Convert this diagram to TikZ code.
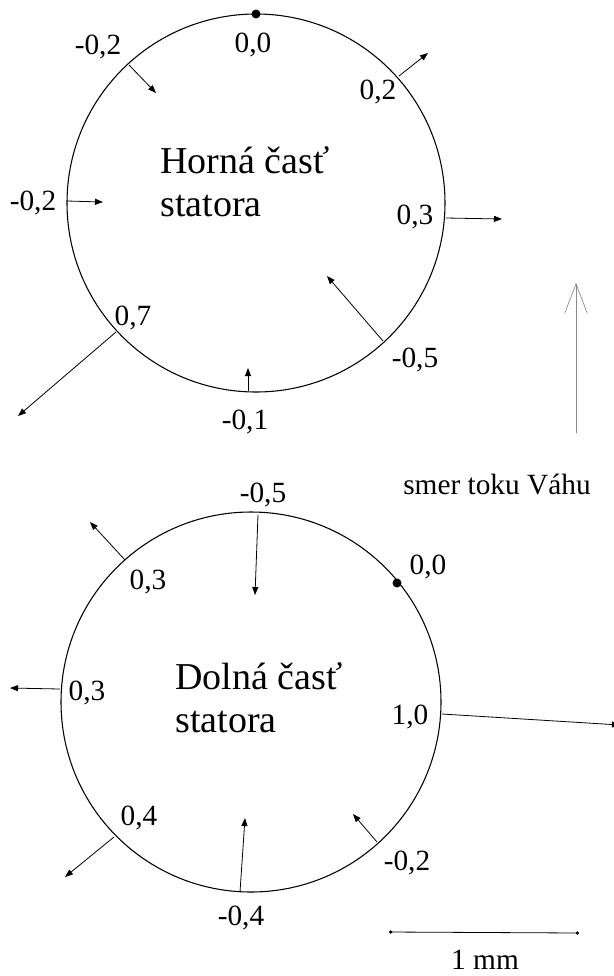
\documentclass[tikz,border=0pt]{standalone}
\usepackage{fontspec}
\setmainfont{Liberation Serif}
\usetikzlibrary{arrows.meta}
\usepackage{xcolor}
\definecolor{flowgray}{HTML}{8A8A8A}
\tikzset{
  stator/.style={draw=black,line width=0.8pt},
  vec/.style={-{Triangle[length=6pt,width=4.5pt]},line width=0.6pt},
  lbl/.style={font=\fontsize{22}{24}\selectfont,inner sep=0pt},
  big/.style={font=\fontsize{28.5}{32}\selectfont,align=left,inner sep=0pt},
  flow/.style={-{Straight Barb[length=22pt,width=17pt]},draw=flowgray,line width=0.5pt},
  bar/.style={{Circle[length=2.5pt]}-{Circle[length=2.5pt]},line width=0.6pt}
}

\begin{document}
\begin{tikzpicture}[x=0.75pt,y=-0.75pt]
        \useasboundingbox (0,0) rectangle (614,976);
        % horna cast statora
        \coordinate (horna) at (256,203);
        \draw[stator] (horna) circle (189);
        \coordinate (nulaH) at (256,14);
        \fill (nulaH) circle (4.5);
        \node[big,anchor=base west] (textH) at (160,216) {Horná časť\\statora};
        \foreach \n/\sx/\sy/\ex/\ey in {h1/129/65/156/93, h2/399/76/428/53, h3/67/201/103/202,
            h4/446/218/502/219, h5/383/341/327/276, h6/116/332/18/416, h7/248/391/248/368} {
          \coordinate (s\n) at (\sx,\sy);
          \coordinate (e\n) at (\ex,\ey);
          \draw[vec] (s\n) -- (e\n);
        }
        \foreach \n/\x/\y/\t in {h0/253/45/{0,0}, h1/98/47/{-0,2}, h2/378/92/{0,2}, h3/33/203/{-0,2},
            h4/415/217/{0,3}, h5/415/360/{-0,5}, h6/133/318/{0,7}, h7/245/422/{-0,1}}
          \node[lbl] (l\n) at (\x,\y) {\t};
        % smer toku
        \coordinate (tokA) at (576,433);
        \coordinate (tokB) at (576,283);
        \draw[flow] (tokA) -- (tokB);
        \node[lbl] (tok) at (497,485) {smer toku Váhu};
        % dolna cast statora
        \coordinate (dolna) at (251,702);
        \draw[stator] (dolna) circle (190);
        \coordinate (nulaD) at (397,583);
        \fill (nulaD) circle (4.5);
        \node[big,anchor=base west] (textD) at (175,732) {Dolná časť\\statora};
        \foreach \n/\sx/\sy/\ex/\ey in {d1/258/515/255/595, d2/125/560/90/522, d3/60/689/10/688,
            d4/114/837/65/877, d5/240/892/245/818, d6/377/842/353/814, d7/442/714/620/725} {
          \coordinate (s\n) at (\sx,\sy);
          \coordinate (e\n) at (\ex,\ey);
          \draw[vec] (s\n) -- (e\n);
        }
        \foreach \n/\x/\y/\t in {d0/428/567/{0,0}, d1/263/495/{-0,5}, d2/148/582/{0,3}, d3/87/693/{0,3},
            d4/139/818/{0,4}, d5/241/918/{-0,4}, d6/407/863/{-0,2}, d7/410/717/{1,0}}
          \node[lbl] (l\n) at (\x,\y) {\t};
        % mierka
        \coordinate (barA) at (389,932);
        \coordinate (barB) at (579,933);
        \draw[bar] (barA) -- (barB);
        \node[lbl] (mm) at (485,960) {1 mm};
      \end{tikzpicture}
\end{document}
